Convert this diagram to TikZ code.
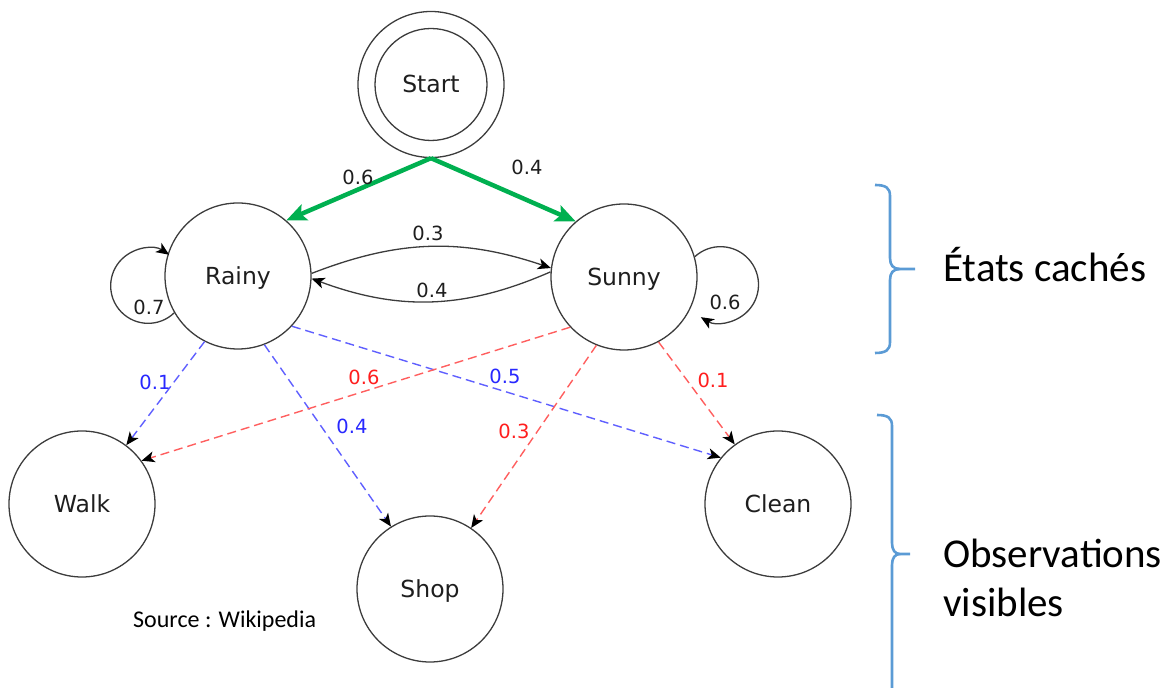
\documentclass[tikz,border=0pt]{standalone}
\usepackage{fontspec}
\setmainfont{DejaVu Sans}
\newfontfamily\calibrifont{Carlito}
\usetikzlibrary{arrows.meta}
\definecolor{edgegray}{RGB}{60,60,60}
\definecolor{txtgray}{RGB}{30,30,30}
\definecolor{startgreen}{RGB}{0,176,80}
\definecolor{dashblue}{RGB}{95,95,255}
\definecolor{dashred}{RGB}{255,95,95}
\definecolor{lblblue}{RGB}{40,40,255}
\definecolor{lblred}{RGB}{255,30,30}
\definecolor{bracecol}{RGB}{91,155,213}
\begin{document}
\begin{tikzpicture}[x=1pt,y=1pt,
  state/.style={circle, draw=edgegray, line width=1.3pt, minimum size=146pt, inner sep=0pt,
    font=\fontsize{23.5}{28}\selectfont, text height=17pt, text depth=0pt, text=txtgray},
  prob/.style={font=\fontsize{19.5}{23}\selectfont, inner sep=0pt, text=txtgray},
  blbl/.style={prob, text=lblblue},
  rlbl/.style={prob, text=lblred},
  blacktip/.style={-{Stealth[length=13pt,width=11pt,inset=3.5pt,color=black]}},
  arcedge/.style={draw=edgegray, line width=1.3pt, blacktip},
  greenedge/.style={draw=startgreen, line width=4.5pt, -{Stealth[length=20pt,width=17pt,inset=4pt]}},
  bdash/.style={draw=dashblue, line width=1.4pt, dash pattern=on 9pt off 5pt, blacktip},
  rdash/.style={draw=dashred, line width=1.4pt, dash pattern=on 9pt off 5pt, blacktip},
  brace/.style={draw=bracecol, line width=2.6pt},
  sidetext/.style={anchor=base west, inner sep=0pt, font=\calibrifont\fontsize{41}{49}\selectfont}
]
\useasboundingbox (0,0) rectangle (1176,688);

% states
\node[state] (startout) at (431,603.5) {};
\node[state, minimum size=112pt] (start) at (431,603.5) {Start};
\node[state] (rainy) at (238,412) {Rainy};
\node[state] (sunny) at (624,411) {Sunny};
\node[state] (walk) at (82,184) {Walk};
\node[state] (shop) at (430,99) {Shop};
\node[state] (clean) at (778,184) {Clean};

% start transitions
\draw[greenedge] (startout.south) -- (rainy.49);
\draw[greenedge] (startout.south) -- (sunny.131);
\node[prob] (p1) at (358,511) {0.6};
\node[prob] (p2) at (527,521) {0.4};

% hidden transitions
\draw[arcedge] (rainy.2) to[bend left=20] (sunny.173);
\draw[arcedge] (sunny.176) to[bend left=22] (rainy.-2);
\node[prob] (p3) at (428,455) {0.3};
\node[prob] (p4) at (432,398) {0.4};

% self loops
\draw[arcedge] (rainy.210) arc[start angle=-46, delta angle=-258, radius=37.5pt];
\node[prob] (p5) at (149,381) {0.7};
\draw[arcedge] (sunny.16) arc[start angle=132.6, delta angle=-253.8, radius=38pt];
\node[prob] (p6) at (725,386) {0.6};

% emissions
\draw[bdash] (rainy.243) -- (walk.53);
\draw[bdash] (rainy.291) -- (shop.122);
\draw[bdash] (rainy.317) -- (clean.141);
\draw[rdash] (sunny.223) -- (walk.36);
\draw[rdash] (sunny.248) -- (shop.56);
\draw[rdash] (sunny.298) -- (clean.126);
\node[blbl] (e1) at (155,306) {0.1};
\node[blbl] (e2) at (352,262) {0.4};
\node[blbl] (e3) at (505,312) {0.5};
\node[rlbl] (e4) at (364,311) {0.6};
\node[rlbl] (e5) at (514,257) {0.3};
\node[rlbl] (e6) at (713,308) {0.1};

% source
\node[anchor=base west, inner sep=0pt, font=\calibrifont\fontsize{24}{29}\selectfont] (src) at (133,60) {Source : Wikipedia};

% braces
\draw[brace] (875,503) .. controls (886,503) and (890,500) .. (890,492) -- (890,430)
  .. controls (890,423) and (893,419) .. (900,419) -- (915,419);
\draw[brace] (900,419) .. controls (893,419) and (890,415) .. (890,408) -- (890,346)
  .. controls (890,338) and (886,335) .. (875,335);
\draw[brace] (877,273) .. controls (888,273) and (892,270) .. (892,262) -- (892,145)
  .. controls (892,138) and (895,134) .. (900,134) -- (910,134);
\draw[brace] (900,134) .. controls (895,134) and (892,130) .. (892,123) -- (892,-5);

\node[sidetext] (hid) at (943,406) {États cachés};
\node[sidetext] (obs1) at (943,120) {Observations};
\node[sidetext] (obs2) at (943,71) {visibles};
\end{tikzpicture}
\end{document}
